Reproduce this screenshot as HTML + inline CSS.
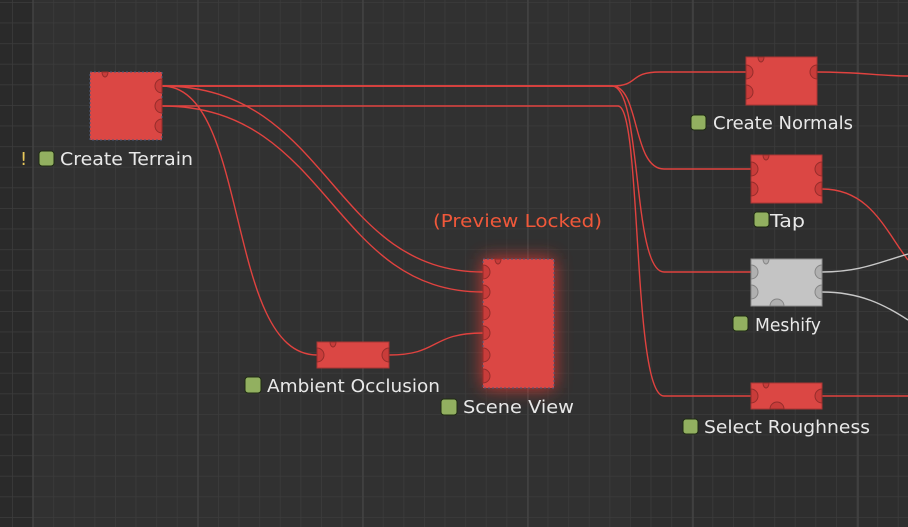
<!DOCTYPE html>
<html><head><meta charset="utf-8"><style>
html,body{margin:0;padding:0;background:#313131;}
svg{display:block}
text{font-family:"DejaVu Sans","Liberation Sans",sans-serif;font-size:18px;fill:#e8e8e8}
</style></head><body>
<svg width="908" height="527" viewBox="0 0 908 527" xmlns="http://www.w3.org/2000/svg">
<defs>
<pattern id="g" x="12" y="2" width="20.6" height="20.6" patternUnits="userSpaceOnUse">
<path d="M0 0H20.6M0 0V20.6" stroke="#3c3c3c" stroke-width="1.5" fill="none"/>
</pattern>
<filter id="glow" x="-60%" y="-40%" width="220%" height="180%">
<feGaussianBlur stdDeviation="9"/>
</filter>
</defs>
<rect width="908" height="527" fill="#313131"/>
<rect width="33" height="527" fill="#2a2a2a"/>
<rect x="630" width="278" height="527" fill="#2e2e2e"/>
<rect width="908" height="527" fill="url(#g)"/>
<g stroke="#434343" stroke-width="1.5">
<line x1="33" y1="0" x2="33" y2="527"/><line x1="198" y1="0" x2="198" y2="527"/>
<line x1="363" y1="0" x2="363" y2="527"/><line x1="528" y1="0" x2="528" y2="527"/>
<line x1="693" y1="0" x2="693" y2="527"/><line x1="858" y1="0" x2="858" y2="527"/>
</g>

<!-- connectors -->
<g fill="none" stroke="#e0423f" stroke-width="1.4">
<path d="M162 86 L612 86 C640 86 628 72 660 72 L746 72"/>
<path d="M162 86 L612 86 C640 86 632 169 664 169 L751 169"/>
<path d="M162 86 L612 86 C642 86 632 272 664 272 L751 272"/>
<path d="M162 106 L618 106 C642 106 632 396 664 396 L751 396"/>
<path d="M162 86 C330 86 330 272 483 272"/>
<path d="M162 106 C330 106 330 292 483 292"/>
<path d="M162 86 C250 86 225 355 317 355"/>
<path d="M389 355 C440 355 430 333 483 333"/>
<path d="M817 72 C860 72 880 76 908 76"/>
<path d="M822 189 C870 189 885 230 908 260"/>
<path d="M822 396 L908 396"/>
</g>
<g fill="none" stroke="#c8c8c8" stroke-width="1.4">
<path d="M822 272 C860 272 880 262 908 254"/>
<path d="M822 292 C860 292 885 305 908 320"/>
</g>

<rect x="483" y="259" width="71" height="129" fill="#ff3a30" opacity="0.8" filter="url(#glow)"/>

<g stroke="#a83634" stroke-width="1">
<rect x="90" y="72" width="72" height="68" fill="#db4744" stroke="#4a5a7a" stroke-dasharray="2 2"/>
<rect x="746" y="57" width="71" height="48" fill="#db4744"/>
<rect x="751" y="155" width="71" height="48" fill="#db4744"/>
<rect x="751" y="259" width="71" height="47" fill="#c4c4c4" stroke="#8f8f8f"/>
<rect x="751" y="383" width="71" height="26" fill="#db4744"/>
<rect x="317" y="342" width="72" height="26" fill="#db4744"/>
<rect x="483" y="259" width="71" height="129" fill="#db4744" stroke="#4a5a7a" stroke-dasharray="2 2"/>
</g>

<g fill="#c83c3a" stroke="#952d2b" stroke-width="1">
<path d="M162 79 A7 7 0 0 0 162 93Z"/><path d="M162 99 A7 7 0 0 0 162 113Z"/><path d="M162 119 A7 7 0 0 0 162 133Z"/>
<path d="M817 65 A7 7 0 0 0 817 79Z"/>
<path d="M822 162 A7 7 0 0 0 822 176Z"/><path d="M822 182 A7 7 0 0 0 822 196Z"/>
<path d="M822 389 A7 7 0 0 0 822 403Z"/>
<path d="M389 348 A7 7 0 0 0 389 362Z"/>
<path d="M746 65 A7 7 0 0 1 746 79Z"/><path d="M746 85 A7 7 0 0 1 746 99Z"/>
<path d="M751 162 A7 7 0 0 1 751 176Z"/><path d="M751 182 A7 7 0 0 1 751 196Z"/>
<path d="M751 389 A7 7 0 0 1 751 403Z"/>
<path d="M317 348 A7 7 0 0 1 317 362Z"/>
<path d="M483 265 A7 7 0 0 1 483 279Z"/><path d="M483 285 A7 7 0 0 1 483 299Z"/>
<path d="M483 306 A7 7 0 0 1 483 320Z"/><path d="M483 326 A7 7 0 0 1 483 340Z"/>
<path d="M483 348 A7 7 0 0 1 483 362Z"/><path d="M483 369 A7 7 0 0 1 483 383Z"/>
<path d="M102 72 A3 5 0 0 0 108 72Z"/><path d="M758 57 A3 5 0 0 0 764 57Z"/>
<path d="M763 155 A3 5 0 0 0 769 155Z"/><path d="M763 383 A3 5 0 0 0 769 383Z"/>
<path d="M330 342 A3 5 0 0 0 336 342Z"/><path d="M495 259 A3 5 0 0 0 501 259Z"/>
<path d="M770 409 A7 7 0 0 1 784 409Z"/>
</g>
<g fill="#b0b0b0" stroke="#858585" stroke-width="1">
<path d="M751 265 A7 7 0 0 1 751 279Z"/><path d="M751 285 A7 7 0 0 1 751 299Z"/>
<path d="M822 265 A7 7 0 0 0 822 279Z"/><path d="M822 285 A7 7 0 0 0 822 299Z"/>
<path d="M763 259 A3 5 0 0 0 769 259Z"/>
<path d="M770 306 A7 7 0 0 1 784 306Z"/>
</g>

<g fill="#92b060" stroke="#1e2a12" stroke-width="1">
<rect x="39" y="151" width="15" height="15" rx="3"/>
<rect x="691" y="115" width="15" height="15" rx="3"/>
<rect x="754" y="212" width="15" height="15" rx="3"/>
<rect x="733" y="316" width="15" height="15" rx="3"/>
<rect x="683" y="419" width="15" height="15" rx="3"/>
<rect x="245" y="377" width="16" height="16" rx="3"/>
<rect x="441" y="399" width="16" height="16" rx="3"/>
</g>

<text x="20" y="165" style="fill:#e8c85a">!</text>
<text x="60" y="165" textLength="133" lengthAdjust="spacingAndGlyphs">Create Terrain</text>
<text x="713" y="129" textLength="140" lengthAdjust="spacingAndGlyphs">Create Normals</text>
<text x="770" y="227" textLength="35" lengthAdjust="spacingAndGlyphs">Tap</text>
<text x="755" y="331" textLength="66" lengthAdjust="spacingAndGlyphs">Meshify</text>
<text x="704" y="433" textLength="166" lengthAdjust="spacingAndGlyphs">Select Roughness</text>
<text x="267" y="392" textLength="173" lengthAdjust="spacingAndGlyphs">Ambient Occlusion</text>
<text x="463" y="413" textLength="111" lengthAdjust="spacingAndGlyphs">Scene View</text>
<text x="433" y="227" textLength="169" lengthAdjust="spacingAndGlyphs" style="fill:#f0583a">(Preview Locked)</text>
</svg>
</body></html>
